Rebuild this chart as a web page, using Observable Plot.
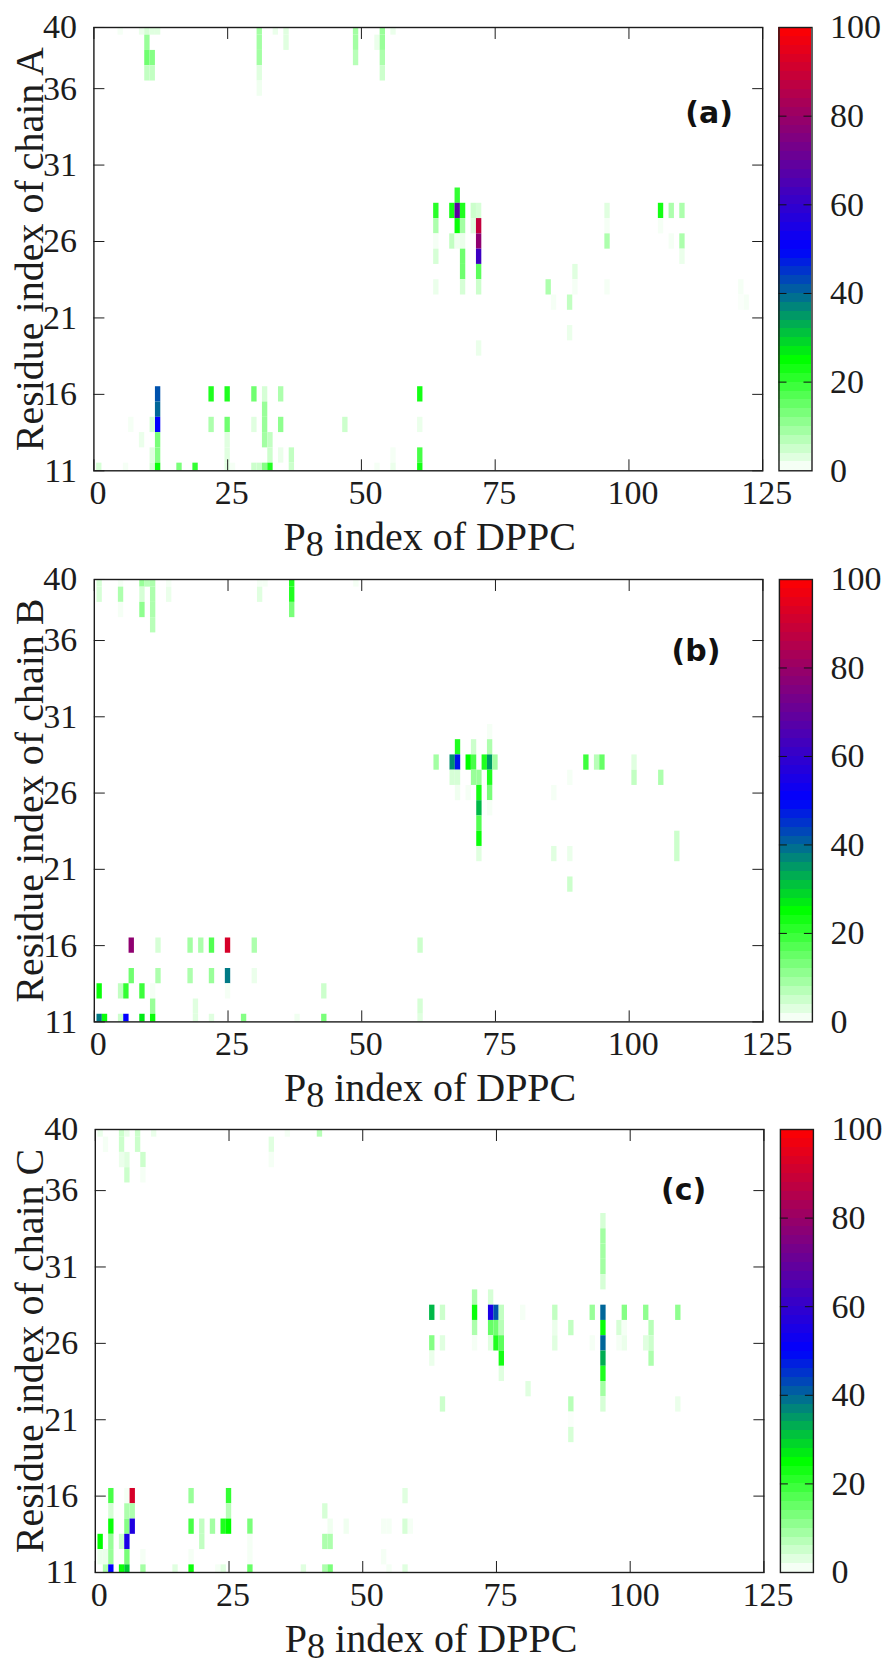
<!DOCTYPE html>
<html><head><meta charset="utf-8">
<script src="https://cdn.jsdelivr.net/npm/d3@7"></script>
<script src="https://cdn.jsdelivr.net/npm/@observablehq/plot@0.6"></script>
<style>
html,body{margin:0;padding:0;background:#fff}
#page{position:relative;width:885px;height:1665px;overflow:hidden}
#page svg{position:absolute;left:0;background:none;overflow:visible}
</style></head><body><div id="page"></div>
<script>
// cells: [P8 index, residue index, contact value]
const chainA = [
[5,40,1],[9,40,2],[10,40,4],[11,40,3],[12,40,3],[10,39,10],[10,38,14],[11,38,12],[10,37,6],[11,37,6],
[31,40,9],[31,39,9],[31,38,9],[31,37,3],[31,36,1.5],[34,40,2],[36,40,3],[36,39,3],
[49,40,9],[49,39,9],[49,38,7],[53,39,2],[54,40,10],[54,39,10],[54,38,8],[54,37,5],[56,40,2],
[68,29,20],[64,28,21],[67,28,23],[68,28,68],[69,28,22],[71,28,5],[72,28,4],[96,28,3],[106,28,23],[108,28,8],[110,28,8],
[64,27,8],[68,27,24],[69,27,9],[71,27,3],[72,27,88],[96,27,1],[106,27,1],
[64,26,1],[67,26,6],[68,26,1.5],[69,26,2],[72,26,78],[96,26,8],[110,26,8],[108,26,1],
[64,25,4],[69,25,14],[72,25,62],[110,25,2],[69,24,14],[72,24,16],[90,24,3],
[64,23,2],[69,23,4],[72,23,5],[85,23,8],[90,23,1],[96,23,1],[121,23,1],
[86,22,1],[89,22,6],[122,22,1],[121,22,0.5],[89,20,2],[72,19,2],
[12,16,42],[22,16,22],[25,16,22],[30,16,14],[32,16,4],[35,16,8],[61,16,23],
[12,15,40],[32,15,10],
[12,14,50],[11,14,4],[7,14,1],[22,14,8],[25,14,14],[30,14,3],[32,14,10],[35,14,11],[47,14,5],[61,14,2],
[12,13,13],[25,13,3],[9,13,2],[32,13,9],[33,13,6],
[12,12,12],[11,12,3],[25,12,3],[33,12,5],[35,12,2],[37,12,6],[61,12,18],[56,12,1],
[1,11,4],[6,11,1],[11,11,4],[12,11,24],[16,11,13],[19,11,20],[25,11,3],[26,11,1],[30,11,5],[31,11,5],[32,11,12],[33,11,22],[37,11,5],[53,11,1],[56,11,2],[61,11,23]
];
const chainB = [
[1,40,4],[1,39,4],[5,40,1],[5,39,8],[5,38,1],[9,40,10],[9,39,4],[9,38,11],[10,40,7],[11,40,8],[11,39,8],[11,38,8],[11,37,7],
[14,40,1],[14,39,2],[31,40,1],[31,39,3],[32,40,1],[37,40,22],[37,39,22],[37,38,13],[49,40,1],
[74,30,1],[68,29,22],[71,29,5],[74,29,8],
[64,28,9],[67,28,36],[68,28,48],[70,28,25],[71,28,18],[73,28,22],[74,28,35],[75,28,9],[92,28,19],[94,28,7],[95,28,15],[101,28,3],
[67,27,4],[68,27,4],[71,27,10],[72,27,10],[74,27,22],[89,27,1],[101,27,6],[106,27,8],
[68,26,1.5],[72,26,23],[74,26,13],[70,26,1],[86,26,1],
[72,25,32],[74,25,1],[72,24,17],[72,23,24],[109,23,5],[72,22,3],[86,22,3],[89,22,2],[109,22,5],[89,20,5],
[7,16,78],[12,16,4],[18,16,9],[20,16,8],[22,16,17],[25,16,92],[30,16,8],[61,16,5],
[7,14,14],[12,14,8],[18,14,8],[22,14,10],[25,14,38],[30,14,2],
[1,13,24],[5,13,6],[6,13,20],[9,13,19],[11,13,1],[25,13,1],[43,13,5],
[11,12,10],[19,12,3],[61,12,4],
[1,11,38],[2,11,24],[5,11,5],[6,11,50],[9,11,27],[11,11,24],[19,11,3],[22,11,3],[28,11,12],[38,11,1.5],[43,11,13],[61,11,3]
];
const chainC = [
[1,40,2],[2,39,1],[5,40,5],[5,39,5],[5,38,2],[6,40,2],[6,38,3],[6,37,5],[8,40,5],[8,39,5],[9,38,5],[9,37,1],[11,40,2],[33,39,3],[33,38,1],[36,40,1],[42,40,7],
[95,34,4],[95,33,9],[95,32,9],[95,31,9],[95,30,4],[71,29,8],[74,29,4],
[63,28,32],[65,28,5],[71,28,24],[74,28,55],[75,28,42],[76,28,6],[80,28,1],[86,28,6],[93,28,10],[95,28,40],[99,28,12],[103,28,11],[109,28,11],
[71,27,8],[74,27,15],[75,27,14],[76,27,7],[86,27,2],[89,27,6],[95,27,24],[98,27,4],[99,27,1],[104,27,7],
[63,26,12],[65,26,3],[71,26,1],[74,26,3],[75,26,22],[76,26,16],[86,26,3],[93,26,1],[95,26,40],[98,26,1],[99,26,2],[103,26,3],[104,26,5],
[63,25,2],[76,25,23],[95,25,33],[104,25,8],[76,24,3],[95,24,22],[81,23,3],[95,23,9],[65,22,5],[89,22,7],[95,22,4],[109,22,2],[89,21,0.5],[89,20,4],
[3,16,18],[6,16,1],[7,16,92],[18,16,10],[25,16,20],[58,16,3],
[3,15,4],[6,15,8],[7,15,8],[25,15,7],[43,15,4],
[3,14,24],[6,14,12],[7,14,56],[18,14,18],[20,14,6],[22,14,9],[24,14,22],[25,14,25],[29,14,13],[44,14,1.5],[47,14,1.5],[54,14,1],[55,14,1],[58,14,4],[59,14,1],
[1,13,25],[3,13,10],[5,13,5],[6,13,55],[20,13,6],[29,13,1],[43,13,8],[44,13,8],
[1,12,2],[2,12,2],[3,12,10],[6,12,13],[9,12,1],[18,12,1],[29,12,1],[54,12,1],
[2,11,8],[3,11,50],[5,11,24],[6,11,30],[9,11,9],[15,11,3],[18,11,24],[23,11,1],[24,11,3],[29,11,15],[39,11,3],[43,11,8],[44,11,13],[55,11,1],[58,11,3]
];
const xTicks = [0,25,50,75,100,125];
const yTicks = [11,16,21,26,31,36,40];
const barTicks = [0,20,40,60,80,100];
const barMiddle = [20,40,60,80];
const barSteps = d3.range(0,100,2);
const colorDomain = [0,25,50,100];
const colorRange = ["#ffffff","#00ff00","#0000ff","#ff0000"];
const serif = '"Liberation Serif","Times New Roman",serif';
const ink = "#1c1c1c";
const page = document.getElementById("page");

const panels = [
  {data:chainA, name:"A", tag:"(a)", tagX:115, tagY:34.4, left:93.4, right:762.2, top:26.7, h:443.3},
  {data:chainB, name:"B", tag:"(b)", tagX:112.5, tagY:35.3, left:93.8, right:762.4, top:579.3, h:442.4},
  {data:chainC, name:"C", tag:"(c)", tagX:110, tagY:36, left:94.8, right:763.4, top:1129.3, h:443}
];
const mT = 10, mB = 100;

function xLabel() {
  return (index, scales, values, dims) => {
    const t = d3.create("svg:text").attr("x",(dims.marginLeft+dims.width-dims.marginRight)/2+2).attr("y",dims.height-dims.marginBottom+80)
      .attr("text-anchor","middle").attr("font-family",serif).attr("font-size",40).attr("fill",ink);
    t.append("tspan").text("P");
    t.append("tspan").attr("dy",6).attr("font-size",36).text("8");
    t.append("tspan").attr("dy",-6).text(" index of DPPC");
    return t.node();
  };
}

for (const p of panels) {
  const plot = Plot.plot({
    width:885, height:p.h+mT+mB,
    marginLeft:p.left, marginRight:885-p.right, marginTop:mT, marginBottom:mB,
    style:{background:"none"},
    x:{type:"linear", domain:[0,125], label:null},
    y:{type:"linear", domain:[11,40], label:null},
    color:{type:"linear", domain:colorDomain, range:colorRange, interpolate:"rgb"},
    marks:[
      Plot.rect(p.data,{x1:d=>d[0]-0.5,x2:d=>d[0]+0.5,y1:d=>d[1]-0.5,y2:d=>d[1]+0.5,fill:d=>d[2],clip:true}),
      Plot.frame({stroke:ink,strokeWidth:1.4}),
      Plot.axisX({ticks:xTicks,anchor:"bottom",tickSize:-11,tickFormat:()=>"",label:null,stroke:ink}),
      Plot.axisX({ticks:xTicks,anchor:"bottom",tickSize:0,tickPadding:9,fontSize:34,fontFamily:serif,fill:ink,label:null,dx:4,tickFormat:d=>String(d)}),
      Plot.axisX({ticks:xTicks,anchor:"top",tickSize:-11,tickFormat:()=>"",label:null,stroke:ink}),
      Plot.axisY({ticks:yTicks,anchor:"left",tickSize:-11,tickPadding:11+17,fontSize:34,fontFamily:serif,fill:ink,stroke:ink,label:null,tickFormat:d=>String(d)}),
      Plot.axisY({ticks:yTicks,anchor:"right",tickSize:-11,tickFormat:()=>"",label:null,stroke:ink}),
      Plot.text([p.tag],{x:p.tagX,y:p.tagY,text:d=>d,fontFamily:"DejaVu Sans",fontWeight:"bold",fontSize:30,fill:"#111"}),
      Plot.text(["Residue index of chain "+p.name],{frameAnchor:"left",dx:-(p.left-30),rotate:-90,text:d=>d,fontFamily:serif,fontSize:40,fill:ink,textAnchor:"middle"}),
      xLabel()
    ]
  });
  plot.style.top = (p.top-mT)+"px";
  page.appendChild(plot);

  const bar = Plot.plot({
    width:885, height:p.h+mT+mB,
    marginLeft:778.5+(p.left-93.4), marginRight:885-811.5-(p.left-93.4), marginTop:mT, marginBottom:mB,
    style:{background:"none"},
    x:{type:"linear", domain:[0,1], axis:null},
    y:{type:"linear", domain:[0,100], label:null},
    color:{type:"linear", domain:colorDomain, range:colorRange, interpolate:"rgb"},
    marks:[
      Plot.rect(barSteps,{x1:()=>0,x2:()=>1,y1:d=>d,y2:d=>d+2,fill:d=>d+1,shapeRendering:"crispEdges"}),
      Plot.frame({stroke:ink,strokeWidth:1.4}),
      Plot.tickY(barMiddle,{y:d=>d,stroke:"#111",strokeWidth:1,insetRight:25}),
      Plot.tickY(barMiddle,{y:d=>d,stroke:"#111",strokeWidth:1,insetLeft:25}),
      Plot.axisY({ticks:barTicks,anchor:"right",tickSize:0,tickPadding:18,fontSize:34,fontFamily:serif,fill:ink,label:null,tickFormat:d=>String(d)})
    ]
  });
  bar.style.top = (p.top-mT)+"px";
  page.appendChild(bar);
}
</script></body></html>
